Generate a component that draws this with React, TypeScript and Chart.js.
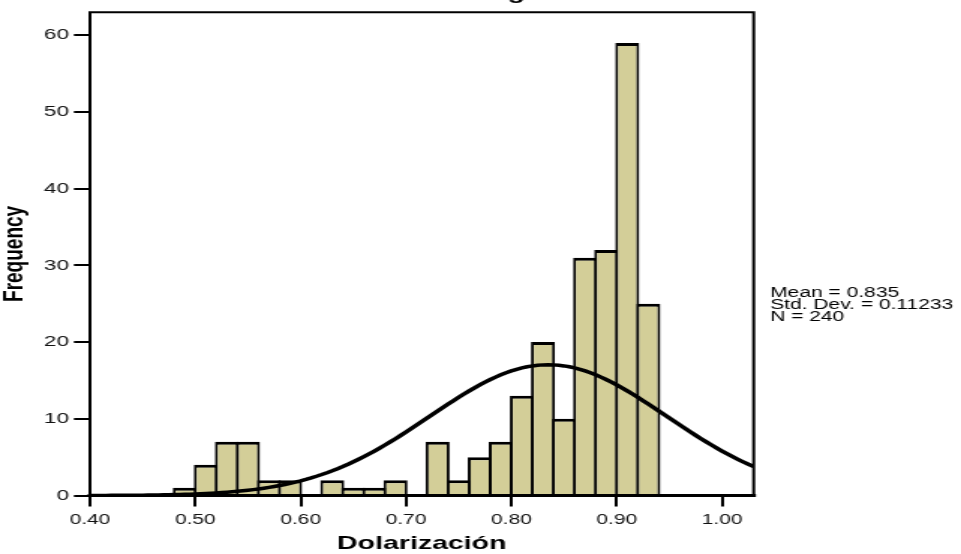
import React, { useEffect, useRef } from "react";
import { Chart, registerables } from "chart.js";

Chart.register(...registerables);

// ---- data ----
const binStarts = [
  0.48, 0.5, 0.52, 0.54, 0.56, 0.58, 0.6, 0.62, 0.64, 0.66, 0.68, 0.7,
  0.72, 0.74, 0.76, 0.78, 0.8, 0.82, 0.84, 0.86, 0.88, 0.9, 0.92,
];
const frequencies = [
  1, 4, 7, 7, 2, 2, 0, 2, 1, 1, 2, 0, 7, 2, 5, 7, 13, 20, 10, 31, 32, 59, 25,
];
const binWidth = 0.02;
const xTicks = [0.4, 0.5, 0.6, 0.7, 0.8, 0.9, 1.0];
const yTicks = [0, 10, 20, 30, 40, 50, 60];
const meanValue = 0.835;
const stdDev = 0.11233;
const nCount = 240;
const statsLines = ["Mean = 0.835", "Std. Dev. = 0.11233", "N = 240"];
const chartTitle = "Histogram";
const xTitle = "Dolarización";
const yTitle = "Frequency";

const FONT = "'Liberation Sans', Arial, Helvetica, sans-serif";
const BAR_FILL = "#D3CE98";

// fitted normal curve from the stated statistics (N * bin width * density)
const curveXs: number[] = [];
for (let i = 0; i <= 126; i++) curveXs.push(0.4 + i * 0.005);
const normalCurve = curveXs.map((x) => ({
  x,
  y:
    ((nCount * binWidth) / (stdDev * Math.sqrt(2 * Math.PI))) *
    Math.exp(-((x - meanValue) ** 2) / (2 * stdDev * stdDev)),
}));

const barPoints = binStarts.map((s, i) => ({ x: s + binWidth / 2, y: frequencies[i] }));

const overlay = {
  id: "overlay",
  afterDatasetsDraw(chart: any) {
    const { ctx, chartArea: a } = chart;
    ctx.save();
    ctx.strokeStyle = "#000";
    ctx.lineCap = "square";
    ctx.lineWidth = 2;
    ctx.beginPath();
    ctx.moveTo(a.left, a.top);
    ctx.lineTo(a.right, a.top);
    ctx.moveTo(a.left, a.top);
    ctx.lineTo(a.left, a.bottom);
    ctx.moveTo(a.right, a.top);
    ctx.lineTo(a.right, a.bottom);
    ctx.stroke();
    ctx.lineWidth = 3;
    ctx.beginPath();
    ctx.moveTo(a.left, a.bottom);
    ctx.lineTo(a.right, a.bottom);
    ctx.stroke();
    ctx.restore();
  },
  afterDraw(chart: any) {
    const { ctx, chartArea: a } = chart;
    ctx.save();
    ctx.fillStyle = "#000";
    ctx.font = `14px ${FONT}`;
    ctx.textAlign = "left";
    ctx.textBaseline = "alphabetic";
    statsLines.forEach((t, i) => ctx.fillText(t, a.right + 11, 297 + i * 12));
    ctx.font = `bold 19px ${FONT}`;
    ctx.textAlign = "center";
    ctx.fillText(chartTitle, 338, -1);
    ctx.restore();
  },
};

export default function App() {
  const ref = useRef<HTMLCanvasElement | null>(null);
  useEffect(() => {
    document.body.style.margin = "0";
    document.body.style.overflow = "hidden";
    const canvas = ref.current;
    if (!canvas) return;
    const chart = new Chart(canvas, {
      type: "bar",
      data: {
        datasets: [
          {
            type: "line",
            data: normalCurve,
            borderColor: "#000",
            borderWidth: 3.5,
            pointRadius: 0,
            fill: false,
            tension: 0,
            order: 0,
          } as any,
          {
            type: "bar",
            data: barPoints,
            backgroundColor: BAR_FILL,
            borderColor: "#000",
            borderWidth: { top: 3, left: 2, right: 2, bottom: 0 },
            borderSkipped: "start",
            categoryPercentage: 1,
            barPercentage: 1.1423,
            inflateAmount: 0,
            order: 1,
          } as any,
        ],
      },
      options: {
        responsive: false,
        devicePixelRatio: 1,
        animation: false,
        events: [],
        layout: { padding: { left: 0, top: 10, right: 138.3, bottom: 0 } },
        plugins: { legend: { display: false }, tooltip: { enabled: false }, title: { display: false } },
        scales: {
          x: {
            type: "linear",
            min: 0.4,
            max: 1.03,
            offset: false,
            afterBuildTicks: (s: any) => {
              s.ticks = xTicks.map((v) => ({ value: v }));
            },
            afterFit: (s: any) => {
              s.height = 58.5;
            },
            border: { display: false },
            grid: {
              offset: false,
              drawOnChartArea: false,
              drawTicks: true,
              tickLength: 11,
              color: "#000",
              lineWidth: 2,
            },
            ticks: {
              padding: 5,
              color: "#111",
              maxRotation: 0,
              font: { family: FONT, size: 14 },
              callback: (v: any) => Number(v).toFixed(2),
            },
            title: {
              display: true,
              text: xTitle,
              color: "#000",
              font: { family: FONT, size: 19, weight: "bold", lineHeight: 1.12 },
              padding: { top: 0, bottom: 0 },
            },
          },
          y: {
            min: 0,
            max: 63,
            afterBuildTicks: (s: any) => {
              s.ticks = yTicks.map((v) => ({ value: v }));
            },
            afterFit: (s: any) => {
              s.width = 60;
            },
            border: { display: false },
            grid: {
              drawOnChartArea: false,
              drawTicks: true,
              tickLength: 10.7,
              color: "#000",
              lineWidth: 2,
            },
            ticks: {
              padding: 3.3,
              color: "#111",
              font: { family: FONT, size: 15 },
              callback: (v: any) => String(v),
            },
            title: {
              display: true,
              text: yTitle,
              color: "#000",
              font: { family: FONT, size: 19, weight: "bold", lineHeight: 1 },
              padding: { top: 0, bottom: 0 },
            },
          },
        },
      } as any,
      plugins: [overlay],
    });
    return () => chart.destroy();
  }, []);
  return (
    <canvas
      ref={ref}
      width={641}
      height={554}
      style={{ width: "961px", height: "554px", display: "block" }}
    />
  );
}
